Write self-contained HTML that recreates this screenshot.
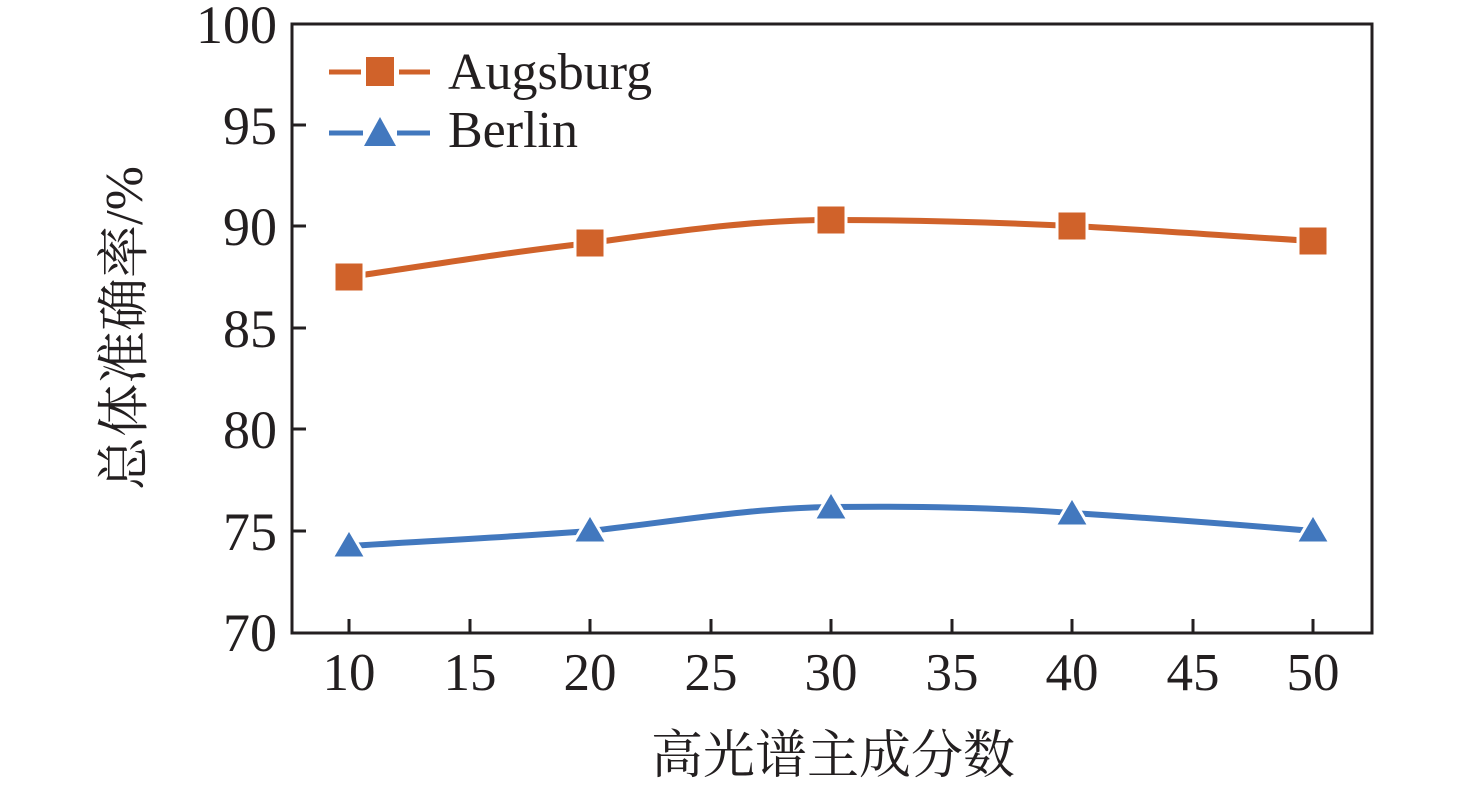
<!DOCTYPE html>
<html><head><meta charset="utf-8"><style>body{margin:0;background:#fff}</style></head><body>
<svg width="1476" height="787" xmlns="http://www.w3.org/2000/svg" font-family="Liberation Serif, serif">
<rect x="292" y="24" width="1080" height="609" fill="none" stroke="#231f20" stroke-width="3"/>
<g stroke="#231f20" stroke-width="3">
<line x1="292" y1="125" x2="306" y2="125"/><line x1="292" y1="226" x2="306" y2="226"/><line x1="292" y1="328" x2="306" y2="328"/><line x1="292" y1="429" x2="306" y2="429"/><line x1="292" y1="531" x2="306" y2="531"/>
<line x1="349" y1="633" x2="349" y2="619"/><line x1="470" y1="633" x2="470" y2="619"/><line x1="590" y1="633" x2="590" y2="619"/><line x1="711" y1="633" x2="711" y2="619"/><line x1="831" y1="633" x2="831" y2="619"/><line x1="952" y1="633" x2="952" y2="619"/><line x1="1072" y1="633" x2="1072" y2="619"/><line x1="1193" y1="633" x2="1193" y2="619"/><line x1="1313" y1="633" x2="1313" y2="619"/>
</g>
<g font-size="54" fill="#231f20" text-anchor="end">
<text x="277" y="43">100</text><text x="277" y="144">95</text><text x="277" y="245">90</text><text x="277" y="347">85</text><text x="277" y="448">80</text><text x="277" y="550">75</text><text x="277" y="651">70</text>
</g>
<g font-size="53" fill="#231f20" text-anchor="middle">
<text x="349" y="690">10</text><text x="470" y="690">15</text><text x="590" y="690">20</text><text x="711" y="690">25</text><text x="831" y="690">30</text><text x="952" y="690">35</text><text x="1072" y="690">40</text><text x="1193" y="690">45</text><text x="1313" y="690">50</text>
</g>
<text x="833" y="773" font-size="52" text-anchor="middle" fill="#231f20" font-family="Liberation Serif, Noto Serif CJK SC, serif">高光谱主成分数</text>
<text transform="translate(142,328) rotate(-90)" font-size="53" text-anchor="middle" fill="#231f20" font-family="Liberation Serif, Noto Serif CJK SC, serif">总体准确率/%</text>
<path d="M349,277 C430,265 510,252 590,243 C670,232 750,220 831,220 C910,220 990,222 1072,226 C1150,230 1230,236 1313,241" fill="none" stroke="#d0622a" stroke-width="6"/>
<path d="M349,546 C430,541 510,537 590,531 C670,522 750,508 831,507 C910,506 990,507 1072,513 C1150,518 1230,524 1313,531" fill="none" stroke="#4278be" stroke-width="6"/>
<g fill="#d0622a" stroke="#fff" stroke-width="3">
<rect x="334" y="262" width="30" height="30"/><rect x="575" y="228" width="30" height="30"/><rect x="816" y="205" width="30" height="30"/><rect x="1057" y="211" width="30" height="30"/><rect x="1298" y="226" width="30" height="30"/>
</g>
<g fill="#4278be" stroke="#fff" stroke-width="3">
<polygon points="349,529 332,558 366,558"/><polygon points="590,514 573,543 607,543"/><polygon points="831,491 814,520 848,520"/><polygon points="1072,497 1055,526 1089,526"/><polygon points="1313,514 1296,543 1330,543"/>
</g>
<line x1="329" y1="72" x2="361" y2="72" stroke="#d0622a" stroke-width="5"/>
<line x1="399" y1="72" x2="430" y2="72" stroke="#d0622a" stroke-width="5"/>
<rect x="366" y="57" width="28" height="29" fill="#d0622a"/>
<line x1="329" y1="133" x2="363" y2="133" stroke="#4278be" stroke-width="5"/>
<line x1="397" y1="133" x2="430" y2="133" stroke="#4278be" stroke-width="5"/>
<polygon points="380,117 364,146 396,146" fill="#4278be"/>
<text x="448" y="89" font-size="52" fill="#231f20">Augsburg</text>
<text x="448" y="147" font-size="52" fill="#231f20">Berlin</text>
</svg>
</body></html>
